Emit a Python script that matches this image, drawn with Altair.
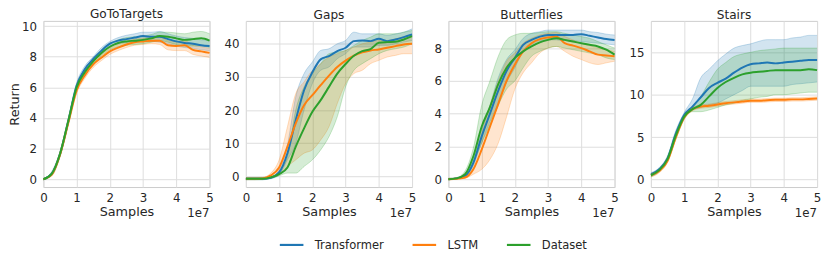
import altair as alt
import pandas as pd

MODELS = ["Transformer", "LSTM", "Dataset"]
COLORS = ["#1f77b4", "#ff7f0e", "#2ca02c"]
X_TICKS = [0, 1, 2, 3, 4, 5]
X = [0.0, 0.25, 0.5, 0.75, 1.0, 1.25, 1.5, 1.75, 2.0, 2.25, 2.5, 2.75, 3.0, 3.25, 3.5, 3.75, 4.0, 4.25, 4.5, 4.75, 5.0]

# ---------------- GoToTargets ----------------
GOTO_T_MEAN = [0.0, 0.35, 1.65, 3.8, 6.1, 7.2, 7.85, 8.4, 8.85, 9.05, 9.15, 9.25, 9.35, 9.3, 9.3, 9.15, 9.0, 8.9, 8.85, 8.75, 8.7]
GOTO_T_LO = [0.0, 0.25, 1.5, 3.6, 5.9, 7.0, 7.7, 8.25, 8.7, 8.85, 8.9, 8.95, 9.0, 9.0, 8.95, 8.85, 8.7, 8.6, 8.55, 8.45, 8.4]
GOTO_T_HI = [0.05, 0.5, 1.8, 4.0, 6.3, 7.4, 8.0, 8.6, 9.0, 9.25, 9.4, 9.5, 9.6, 9.6, 9.65, 9.5, 9.35, 9.25, 9.2, 9.1, 9.05]
GOTO_L_MEAN = [0.0, 0.3, 1.6, 3.7, 5.8, 6.8, 7.5, 7.95, 8.35, 8.6, 8.8, 8.95, 9.0, 9.05, 9.05, 8.75, 8.7, 8.75, 8.45, 8.35, 8.25]
GOTO_L_LO = [0.0, 0.2, 1.45, 3.5, 5.6, 6.6, 7.3, 7.75, 8.15, 8.4, 8.6, 8.75, 8.8, 8.85, 8.8, 8.45, 8.4, 8.4, 8.15, 8.05, 7.95]
GOTO_L_HI = [0.05, 0.4, 1.75, 3.9, 6.0, 7.0, 7.7, 8.15, 8.55, 8.8, 9.0, 9.15, 9.2, 9.25, 9.3, 9.05, 9.0, 9.05, 8.75, 8.65, 8.55]
GOTO_D_MEAN = [0.0, 0.35, 1.65, 3.8, 6.0, 7.0, 7.7, 8.25, 8.65, 8.9, 9.0, 9.05, 9.1, 9.2, 9.35, 9.3, 9.2, 9.1, 9.15, 9.2, 9.05]
GOTO_D_LO = [0.0, 0.25, 1.5, 3.6, 5.8, 6.8, 7.5, 8.05, 8.45, 8.65, 8.75, 8.8, 8.85, 8.95, 9.05, 8.95, 8.8, 8.7, 8.7, 8.7, 8.6]
GOTO_D_HI = [0.05, 0.45, 1.8, 4.0, 6.2, 7.2, 7.9, 8.45, 8.85, 9.1, 9.25, 9.3, 9.35, 9.45, 9.6, 9.6, 9.55, 9.5, 9.6, 9.65, 9.5]

# ---------------- Gaps ----------------
GAPS_T_MEAN = [-0.7, -0.7, -0.7, -0.4, 1.2, 7.0, 17.0, 26.0, 31.4, 35.3, 36.3, 37.8, 38.8, 40.8, 41.0, 40.8, 41.5, 40.8, 41.3, 42.0, 42.8]
GAPS_T_LO = [-1.0, -1.0, -1.0, -0.7, 0.5, 5.0, 10.0, 20.0, 28.0, 32.0, 33.0, 35.5, 37.0, 39.0, 39.0, 39.0, 39.5, 39.5, 40.0, 40.5, 41.0]
GAPS_T_HI = [-0.4, -0.4, -0.4, -0.1, 2.0, 9.5, 24.0, 31.0, 34.5, 38.0, 38.5, 40.0, 41.0, 43.5, 43.0, 43.0, 43.0, 42.5, 43.0, 43.5, 44.5]
GAPS_L_MEAN = [-0.7, -0.7, -0.6, 0.3, 2.7, 9.0, 16.0, 21.5, 24.5, 27.5, 30.4, 33.0, 34.9, 36.4, 37.4, 38.0, 38.3, 38.8, 39.3, 39.8, 40.0]
GAPS_L_LO = [-1.0, -1.0, -0.9, -0.3, 0.5, 3.0, 5.0, 7.0, 8.0, 11.0, 15.0, 22.0, 28.0, 31.0, 32.0, 34.0, 35.0, 36.0, 36.5, 37.0, 37.0]
GAPS_L_HI = [-0.4, -0.4, -0.3, 1.0, 5.0, 15.0, 25.0, 28.5, 32.0, 34.0, 36.0, 37.0, 38.0, 39.0, 40.0, 40.5, 41.0, 41.0, 41.5, 42.0, 42.0]
GAPS_D_MEAN = [-0.7, -0.7, -0.7, -0.3, 0.7, 2.7, 9.0, 14.5, 19.5, 23.0, 27.0, 31.0, 33.9, 36.4, 37.8, 38.4, 40.3, 40.5, 40.6, 41.3, 42.3]
GAPS_D_LO = [-1.0, -1.0, -1.0, -0.6, 0.2, 1.0, 1.0, 3.0, 5.0, 8.0, 12.0, 18.0, 27.0, 32.0, 34.0, 35.5, 37.0, 38.0, 38.5, 39.0, 40.0]
GAPS_D_HI = [-0.4, -0.4, -0.4, 0.0, 1.5, 6.0, 20.0, 27.0, 31.0, 34.0, 37.0, 37.5, 38.0, 39.5, 41.0, 42.0, 43.0, 43.0, 43.0, 43.5, 44.0]

# ---------------- Butterflies ----------------
BUTT_T_MEAN = [0.0, 0.05, 0.2, 1.0, 2.6, 4.0, 5.4, 6.6, 7.4, 8.2, 8.5, 8.7, 8.8, 8.8, 8.8, 8.8, 8.85, 8.75, 8.65, 8.55, 8.5]
BUTT_T_LO = [0.0, 0.03, 0.1, 0.8, 2.2, 3.5, 4.6, 5.9, 6.8, 7.8, 8.2, 8.45, 8.5, 8.5, 8.45, 8.45, 8.4, 8.35, 8.3, 8.25, 8.2]
BUTT_T_HI = [0.05, 0.1, 0.3, 1.2, 3.0, 4.5, 6.2, 7.3, 7.9, 8.6, 8.9, 9.0, 9.1, 9.1, 9.1, 9.1, 9.1, 9.0, 8.95, 8.85, 8.8]
BUTT_L_MEAN = [0.0, 0.03, 0.1, 0.6, 1.8, 3.2, 4.6, 6.0, 7.0, 7.8, 8.3, 8.55, 8.65, 8.7, 8.3, 8.15, 8.0, 7.8, 7.6, 7.55, 7.5]
BUTT_L_LO = [0.0, 0.0, 0.05, 0.3, 0.6, 1.2, 2.2, 3.8, 5.5, 6.5, 7.1, 7.7, 8.0, 8.1, 7.8, 7.5, 7.3, 7.1, 7.0, 7.1, 7.2]
BUTT_L_HI = [0.05, 0.08, 0.2, 1.0, 2.8, 4.5, 6.0, 7.2, 7.7, 8.3, 8.6, 8.8, 8.9, 8.95, 8.7, 8.5, 8.3, 8.15, 8.0, 7.9, 7.8]
BUTT_D_MEAN = [0.0, 0.05, 0.3, 1.4, 3.2, 4.4, 5.8, 6.8, 7.4, 7.8, 8.1, 8.35, 8.5, 8.6, 8.5, 8.4, 8.3, 8.2, 8.1, 7.9, 7.6]
BUTT_D_LO = [0.0, 0.03, 0.2, 1.0, 2.2, 3.3, 4.5, 5.5, 6.0, 6.8, 7.5, 7.8, 8.0, 8.1, 8.0, 7.9, 7.8, 7.7, 7.6, 7.4, 7.3]
BUTT_D_HI = [0.05, 0.1, 0.5, 1.9, 4.5, 6.0, 7.5, 8.5, 8.8, 8.9, 8.9, 8.95, 9.0, 9.0, 8.9, 8.8, 8.7, 8.6, 8.4, 8.2, 8.0]

# ---------------- Stairs ----------------
STAIR_T_MEAN = [0.6, 1.2, 2.5, 5.4, 7.6, 8.6, 9.7, 10.8, 11.4, 11.9, 12.6, 13.2, 13.6, 13.7, 13.8, 13.7, 13.8, 13.9, 14.0, 14.1, 14.1]
STAIR_T_LO = [0.4, 1.0, 2.2, 5.0, 7.3, 8.2, 8.5, 8.8, 9.0, 9.5, 10.0, 10.5, 11.0, 11.0, 11.0, 11.0, 11.0, 11.2, 11.3, 11.4, 11.5]
STAIR_T_HI = [0.8, 1.4, 2.8, 5.8, 7.9, 9.5, 12.0, 13.0, 14.0, 14.8, 15.5, 15.8, 16.0, 16.3, 16.5, 16.5, 16.5, 16.7, 16.8, 17.0, 17.0]
STAIR_L_MEAN = [0.5, 1.0, 2.2, 5.0, 7.3, 8.3, 8.6, 8.7, 8.85, 9.0, 9.1, 9.2, 9.3, 9.3, 9.35, 9.4, 9.4, 9.45, 9.45, 9.5, 9.55]
STAIR_L_LO = [0.3, 0.8, 2.0, 4.7, 7.1, 8.1, 8.4, 8.5, 8.65, 8.8, 8.9, 9.0, 9.1, 9.1, 9.15, 9.2, 9.2, 9.25, 9.25, 9.3, 9.35]
STAIR_L_HI = [0.7, 1.2, 2.4, 5.3, 7.5, 8.5, 8.8, 8.9, 9.05, 9.2, 9.3, 9.4, 9.5, 9.5, 9.55, 9.6, 9.6, 9.65, 9.65, 9.7, 9.75]
STAIR_D_MEAN = [0.5, 1.1, 2.4, 5.2, 7.4, 8.3, 8.8, 9.8, 10.8, 11.5, 12.0, 12.4, 12.6, 12.7, 12.8, 12.9, 12.9, 12.9, 12.9, 13.0, 12.9]
STAIR_D_LO = [0.3, 0.9, 2.1, 4.8, 7.1, 8.0, 8.0, 8.2, 8.5, 8.8, 9.0, 9.3, 9.5, 9.7, 9.8, 10.0, 10.0, 10.1, 10.2, 10.3, 10.3]
STAIR_D_HI = [0.7, 1.3, 2.7, 5.6, 7.7, 8.6, 9.8, 11.5, 13.0, 13.8, 14.5, 14.8, 15.0, 15.2, 15.3, 15.4, 15.5, 15.5, 15.5, 15.5, 15.5]

PANELS = [
    ("GoToTargets", [-0.51, 10.34], [0, 2, 4, 6, 8, 10],
     {"Transformer": (GOTO_T_MEAN, GOTO_T_LO, GOTO_T_HI),
      "LSTM": (GOTO_L_MEAN, GOTO_L_LO, GOTO_L_HI),
      "Dataset": (GOTO_D_MEAN, GOTO_D_LO, GOTO_D_HI)}),
    ("Gaps", [-3.2, 46.9], [0, 10, 20, 30, 40],
     {"Transformer": (GAPS_T_MEAN, GAPS_T_LO, GAPS_T_HI),
      "LSTM": (GAPS_L_MEAN, GAPS_L_LO, GAPS_L_HI),
      "Dataset": (GAPS_D_MEAN, GAPS_D_LO, GAPS_D_HI)}),
    ("Butterflies", [-0.48, 9.66], [0, 2, 4, 6, 8],
     {"Transformer": (BUTT_T_MEAN, BUTT_T_LO, BUTT_T_HI),
      "LSTM": (BUTT_L_MEAN, BUTT_L_LO, BUTT_L_HI),
      "Dataset": (BUTT_D_MEAN, BUTT_D_LO, BUTT_D_HI)}),
    ("Stairs", [-0.89, 18.71], [0, 5, 10, 15],
     {"Transformer": (STAIR_T_MEAN, STAIR_T_LO, STAIR_T_HI),
      "LSTM": (STAIR_L_MEAN, STAIR_L_LO, STAIR_L_HI),
      "Dataset": (STAIR_D_MEAN, STAIR_D_LO, STAIR_D_HI)}),
]

W = 169
H = 169
TXT = "#262626"


def make_panel(title, ydomain, yticks, series, first):
    rows = []
    for m in MODELS:
        mean, lo, hi = series[m]
        for i, x in enumerate(X):
            rows.append({"model": m, "x": x, "mean": mean[i], "lo": lo[i], "hi": hi[i]})
    df = pd.DataFrame(rows)

    xaxis = alt.Axis(values=X_TICKS, format="d", title="Samples", labelPadding=6, titlePadding=2,
                     labelFlush=False)
    yaxis = alt.Axis(values=yticks, format="d", title="Return" if first else None,
                     labelPadding=7, titlePadding=0)
    xenc = alt.X("x:Q", scale=alt.Scale(domain=[0, 5], nice=False, zero=False), axis=xaxis)
    yscale = alt.Scale(domain=ydomain, nice=False, zero=False)

    base = alt.Chart(df)
    layers = []
    for m, c in zip(MODELS, COLORS):
        sub = base.transform_filter(alt.datum.model == m)
        layers.append(sub.mark_area(opacity=0.2, interpolate="monotone", color=c).encode(
            x=xenc, y=alt.Y("lo:Q", scale=yscale, axis=yaxis), y2="hi:Q"))
        layers.append(sub.mark_line(strokeWidth=0.6, opacity=0.4, interpolate="monotone", color=c).encode(
            x=xenc, y=alt.Y("lo:Q", scale=yscale, axis=yaxis)))
        layers.append(sub.mark_line(strokeWidth=0.6, opacity=0.4, interpolate="monotone", color=c).encode(
            x=xenc, y=alt.Y("hi:Q", scale=yscale, axis=yaxis)))
    for m in MODELS:
        layers.append(
            base.transform_filter(alt.datum.model == m).mark_line(strokeWidth=2, interpolate="monotone").encode(
                x=xenc,
                y=alt.Y("mean:Q", scale=yscale, axis=yaxis),
                color=alt.Color(
                    "model:N",
                    scale=alt.Scale(domain=MODELS, range=COLORS),
                    legend=alt.Legend(
                        orient="none", direction="horizontal", legendX=239, legendY=214,
                        title=None, symbolType="stroke", symbolSize=576, symbolStrokeWidth=2.2,
                        labelFontSize=11.7, labelColor=TXT, columnPadding=24, labelOffset=10,
                    ),
                ),
            )
        )
    offset = alt.Chart(pd.DataFrame({"t": ["1e7"]})).mark_text(
        align="right", baseline="middle", fontSize=12, color=TXT
    ).encode(text="t:N", x=alt.value(W), y=alt.value(H + 26))
    layers.append(offset)

    return alt.layer(*layers).properties(
        width=W, height=H,
        title=alt.TitleParams(title, fontSize=12.3, fontWeight="normal", color=TXT, offset=0),
    )


charts = [make_panel(t, d, ticks, s, i == 0) for i, (t, d, ticks, s) in enumerate(PANELS)]

chart = alt.hconcat(*charts, spacing=37, bounds="flush").properties(
    padding={"left": 0, "top": -3, "right": 0, "bottom": 0}
).configure(font="DejaVu Sans").configure_axis(
    gridColor="#dddddd", gridWidth=1, domain=False, ticks=False,
    labelColor=TXT, titleColor=TXT, labelFontSize=12, titleFontSize=13,
    titleFontWeight="normal", labelFont="DejaVu Sans", titleFont="DejaVu Sans",
).configure_view(stroke="#cccccc", strokeWidth=1).configure_legend(labelFont="DejaVu Sans")

chart.save("out.html", embed_options={"renderer": "svg", "actions": False})
